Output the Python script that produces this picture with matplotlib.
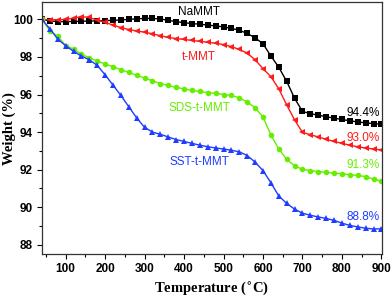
import numpy as np
import matplotlib
matplotlib.use("Agg")
import matplotlib.pyplot as plt

# temperature grid (°C) and weight (%)
temp = [40, 60, 80, 100, 120, 140, 160, 180, 200, 220, 240, 260, 280, 300, 320,
        340, 360, 380, 400, 420, 440, 460, 480, 500, 520, 540, 560, 580, 600, 620,
        640, 660, 680, 700, 720, 740, 760, 780, 800, 820, 840, 860, 880, 900]

nammt = [100.0, 99.92, 99.88, 99.88, 99.89, 99.9, 99.91, 99.92, 99.93, 99.95,
         99.97, 100.0, 100.03, 100.05, 100.05, 100.02, 99.95, 99.88, 99.82, 99.78,
         99.74, 99.7, 99.65, 99.6, 99.52, 99.42, 99.25, 99.02, 98.7, 98.05,
         97.45, 96.7, 95.8, 95.1, 94.98, 94.9, 94.82, 94.74, 94.67, 94.6,
         94.54, 94.49, 94.45, 94.43]

tmmt = [100.0, 99.98, 99.98, 100.0, 100.06, 100.15, 100.1, 99.96, 99.84, 99.7,
        99.56, 99.46, 99.38, 99.32, 99.23, 99.13, 99.04, 98.98, 98.93, 98.88,
        98.83, 98.78, 98.73, 98.66, 98.55, 98.4, 98.2, 97.85, 97.38, 96.95,
        96.3, 95.45, 94.65, 93.98, 93.86, 93.74, 93.62, 93.5, 93.4, 93.3,
        93.22, 93.15, 93.1, 93.05]

sds = [100.0, 99.4, 99.1, 98.6, 98.42, 98.15, 97.95, 97.78, 97.62, 97.48,
       97.32, 97.18, 97.02, 96.88, 96.73, 96.58, 96.48, 96.38, 96.3, 96.22,
       96.16, 96.1, 96.06, 96.0, 95.95, 95.82, 95.6, 95.3, 94.8, 93.85,
       93.1, 92.55, 92.2, 92.02, 91.95, 91.9, 91.85, 91.82, 91.78, 91.73,
       91.69, 91.63, 91.5, 91.38]

sst = [100.0, 99.5, 98.95, 98.6, 98.3, 98.05, 97.85, 97.55, 97.05, 96.5,
       95.95, 95.35, 94.75, 94.25, 94.0, 93.88, 93.74, 93.6, 93.5, 93.4,
       93.3, 93.22, 93.15, 93.1, 93.03, 92.95, 92.75, 92.4, 91.95, 91.3,
       90.6, 90.2, 89.9, 89.68, 89.57, 89.48, 89.4, 89.3, 89.15, 89.03,
       88.95, 88.88, 88.84, 88.85]

names = ["NaMMT", "t-MMT", "SDS-t-MMT", "SST-t-MMT"]
ends = ["94.4%", "93.0%", "91.3%", "88.8%"]
colors = ["#000000", "#ff1a1a", "#66ee00", "#1f3cff"]
markers = ["s", "<", "o", "^"]

fig = plt.figure(figsize=(3.92, 2.99), dpi=100)
ax = fig.add_axes([0.107, 0.15, 0.868, 0.843])

for y, c, m in zip([nammt, tmmt, sds, sst], colors, markers):
    ax.plot(temp, y, color=c, marker=m, markersize=4, linewidth=1.0,
            markeredgewidth=0)

# curve names
name_y = [100.39, 98.0, 95.29, 92.38]
for n, c, yy in zip(names, colors, name_y):
    ax.text(438, yy, n, color=c, fontsize=8.5, ha="center", va="center",
            family="Liberation Sans")

# residual weights
end_y = [95.0, 93.7, 92.27, 89.46]
for e, c, yy in zip(ends, colors, end_y):
    ax.text(895, yy, e, color=c, fontsize=8.5, ha="right", va="center",
            family="Liberation Sans")

ax.set_xlim(40, 902)
ax.set_ylim(87.5, 100.92)
ax.set_xticks(range(100, 901, 100))
ax.set_xticks(range(50, 901, 50), minor=True)
ax.set_yticks(range(88, 101, 2))
ax.set_yticks(range(88, 101, 1), minor=True)
ax.tick_params(which="major", direction="out", length=3.5, width=0.8, pad=3)
ax.tick_params(which="minor", direction="out", length=2, width=0.8)
for lab in ax.get_xticklabels() + ax.get_yticklabels():
    lab.set_fontfamily("Liberation Sans")
    lab.set_fontweight("bold")
    lab.set_fontsize(8.5)
for s in ax.spines.values():
    s.set_linewidth(0.9)
    s.set_color("#333333")

ax.set_xlabel("Temperature ($^{\\mathbf{\\circ}}$C)", family="Liberation Serif",
              fontweight="bold", fontsize=10.5, va="center")
ax.xaxis.set_label_coords(0.5, -0.138)
ax.set_ylabel("Weight (%)", family="Liberation Serif", fontweight="bold",
              fontsize=10.5, va="center")
ax.yaxis.set_label_coords(-0.095, 0.5)

fig.savefig("out.png", dpi=100)
